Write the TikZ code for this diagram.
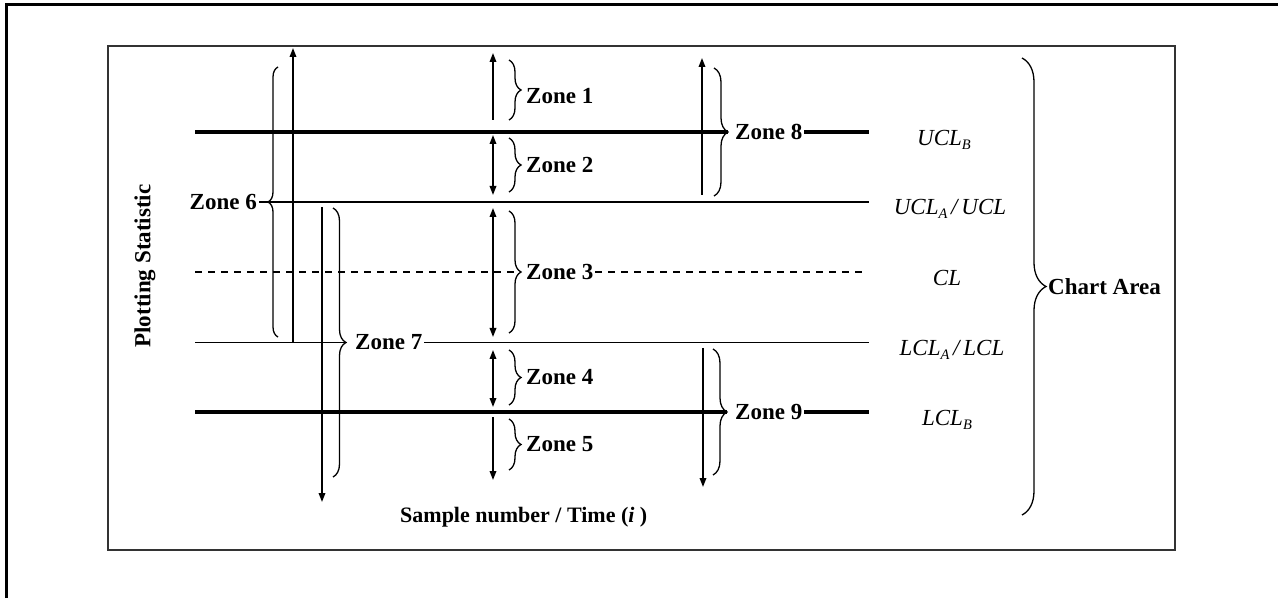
\documentclass[tikz,border=0pt]{standalone}
\usepackage{fontspec}
\setmainfont{Liberation Serif}
\usepackage{tikz}
\usetikzlibrary{arrows.meta,positioning,decorations.pathreplacing,calc}
\definecolor{frgrey}{HTML}{333333}
\newcommand{\lsub}[1]{\raisebox{-4pt}{\fontsize{14.5}{14.5}\selectfont #1}}

\begin{document}
\begin{tikzpicture}[x=1pt, y=1pt, font=\fontsize{23}{27}\selectfont,
  zone/.style={font=\fontsize{23}{27}\selectfont\bfseries, inner sep=2pt},
  lim/.style={font=\fontsize{23}{27}\selectfont\itshape, anchor=base, inner sep=0pt},
  ln/.style={line width=1.4pt},
  lnb/.style={line width=3.6pt},
  lnd/.style={line width=1.2pt, dash pattern=on 7pt off 6pt},
  ar/.style={line width=1.7pt, >={Triangle[length=9pt,width=6.5pt]}},
  brc/.style={decorate, decoration={brace, amplitude=#1}, line width=1.3pt},
  brc/.default=12pt]
  \useasboundingbox (0,0) rectangle (1278,598);
  % frames
  \draw[line width=3pt] (6.5,0) -- (6.5,593) -- (1278,593);
  \draw[line width=2pt, draw=frgrey] (108,48) rectangle (1175,551.5);
  % line ends
  \coordinate (ubA) at (195,466);   \coordinate (ubB) at (869,466);
  \coordinate (uaB) at (869,396);
  \coordinate (clA) at (195,326);   \coordinate (clB) at (862,326);
  \coordinate (laA) at (195,255.5); \coordinate (laB) at (869,255.5);
  \coordinate (lbA) at (195,186);   \coordinate (lbB) at (869,186);
  % zones 1-5 in the middle
  \foreach \n/\ya/\yb/\ba/\bb/\tp/\dy in {1/545/478/538/478/<-/-6, 2/463/403/460/406/<->/0,
      3/390/261/387/265/<->/0, 4/248/191/248/193/<->/0, 5/181/118/179/128/->/0} {
    \draw[ar,\tp] (493,\ya) -- (493,\yb);
    \draw[brc] (509,\ba) -- (509,\bb);
    \coordinate (t\n) at (521,{(\ba+\bb)/2});
    \node[zone, right=3pt of t\n, yshift=\dy pt] (z\n) {Zone \n};
  }
  % zone 6
  \draw[ar,->] (293,256) -- (293,550);
  \draw[brc=10pt] (278,261) -- (278,531);
  \coordinate (t6) at (268,396);
  \node[zone, left=9pt of t6] (z6) {Zone 6};
  % zone 7
  \draw[ar,->] (322,391) -- (322,96);
  \draw[brc=13pt] (333,390) -- (333,121);
  \coordinate (t7) at (346,255.5);
  \node[zone, right=7pt of t7] (z7) {Zone 7};
  % zone 8 and 9
  \draw[ar,->] (702,403) -- (702,540);
  \draw[brc=14pt] (714,530) -- (714,402);
  \coordinate (t8) at (728,466);
  \node[zone, right=5pt of t8] (z8) {Zone 8};
  \draw[ar,->] (703,250) -- (703,111);
  \draw[brc=14pt] (713,249) -- (713,123);
  \coordinate (t9) at (727,186);
  \node[zone, right=6pt of t9] (z9) {Zone 9};
  % limit lines
  \draw[lnb] (ubA) -- (t8);
  \draw[lnb] (z8) -- (ubB);
  \draw[ln] (z6) -- (uaB);
  \draw[lnd] (clA) -- (t3);
  \draw[lnd] (z3) -- (clB);
  \draw[ln] (laA) -- (t7);
  \draw[ln] (z7) -- (laB);
  \draw[lnb] (lbA) -- (t9);
  \draw[lnb] (z9) -- (lbB);
  % limit labels
  \node[lim] (lUB) at (944,452) {UCL\lsub{B}};
  \node[lim] (lUA) at (950,383) {UCL\lsub{A}\,/\,UCL};
  \node[lim] (lCL) at (947,312) {CL};
  \node[lim] (lLA) at (952,242.5) {LCL\lsub{A}\,/\,LCL};
  \node[lim] (lLB) at (947,173) {LCL\lsub{B}};
  % chart area
  \draw[brc=24pt] (1022,540) -- (1022,83);
  \coordinate (tca) at (1046,311.5);
  \node[zone, right=0pt of tca] (ca) {Chart Area};
  % axis titles
  \node[zone, rotate=90] (ps) at (145,332) {Plotting Statistic};
  \node[zone, anchor=west, font=\fontsize{22}{26}\selectfont\bfseries] (sn) at (398,81) {Sample number / Time (\textit{i} )};
\end{tikzpicture}
\end{document}
